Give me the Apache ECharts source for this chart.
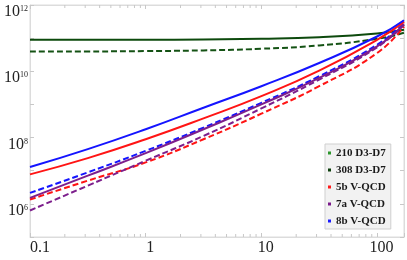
<!DOCTYPE html>
<html>
<head>
<meta charset="utf-8">
<script src="https://cdn.jsdelivr.net/npm/echarts@6/dist/echarts.min.js"></script>
<style>html,body{margin:0;padding:0;background:#fff}#c{width:407px;height:260px}</style>
</head>
<body>
<div id="c"></div>
<script>
// x positions where values were read
const xVals = [0.1, 0.316, 1, 3.16, 10, 31.6, 100, 171];
// series values
const d210 = [8.91e10, 8.91e10, 8.91e10, 9.12e10, 9.55e10, 1.07e11, 1.38e11, 1.78e11];
const d308 = [3.98e10, 3.98e10, 4.07e10, 4.27e10, 4.79e10, 6.03e10, 9.55e10, 1.45e11];
const red5bSolid = [7.76e6, 2.40e7, 8.91e7, 3.80e8, 1.78e9, 1.05e10, 8.91e10, 3.09e11];
const red5bDash = [1.35e6, 5.01e6, 1.78e7, 8.91e7, 5.25e8, 3.55e9, 3.55e10, 2.24e11];
const pur7aSolid = [1.51e6, 7.08e6, 3.39e7, 1.78e8, 1.00e9, 6.31e9, 5.62e10, 2.63e11];
const pur7aDash = [6.31e5, 3.55e6, 2.00e7, 1.12e8, 7.59e8, 5.62e9, 5.25e10, 2.51e11];
const blu8bSolid = [1.29e7, 4.47e7, 1.78e8, 7.94e8, 3.55e9, 1.78e10, 1.12e11, 3.47e11];
const blu8bDash = [2.14e6, 8.91e6, 3.98e7, 2.00e8, 1.12e9, 7.08e9, 6.31e10, 2.82e11];
const legendNames = ['210 D3-D7', '308 D3-D7', '5b V-QCD', '7a V-QCD', '8b V-QCD'];
const minorTickVals = [0.2,0.3,0.4,0.5,0.6,0.7,0.8,0.9,2,3,4,5,6,7,8,9,20,30,40,50,60,70,80,90,200];
const xMin = 0.1, xMax = 171, yMin = 1e5, yMax = 1e12;

const pairs = ys => xVals.map((x, i) => [x, ys[i]]);
const serif = 'Liberation Serif';

function lineSeries(name, ys, color, dashed, z) {
  return {
    name: name, type: 'line', data: pairs(ys), showSymbol: false, symbol: 'none',
    smooth: 0.5, z: z,
    itemStyle: { color: color },
    lineStyle: { color: color, width: 2, type: dashed ? [6, 3] : 'solid' }
  };
}

const chart = echarts.init(document.getElementById('c'), null, { renderer: 'canvas' });
const tickStyle = { show: true, inside: true, length: 4, lineStyle: { color: '#c8c8c8', width: 1 } };
const lineAx = { show: true, lineStyle: { color: '#dcdcdc', width: 1 } };
chart.setOption({
  animation: false,
  grid: { left: 30, right: 2, top: 5, bottom: 23, show: true, borderColor: '#dcdcdc', borderWidth: 1, backgroundColor: 'transparent' },
  legend: {
    orient: 'vertical', left: 325, top: 144,
    data: [
      { name: legendNames[0], itemStyle: { color: '#2c962c' } },
      { name: legendNames[1], itemStyle: { color: '#0c3f0c' } },
      { name: legendNames[2], itemStyle: { color: '#ff1a1a' } },
      { name: legendNames[3], itemStyle: { color: '#7a1a8a' } },
      { name: legendNames[4], itemStyle: { color: '#1a1aff' } }
    ],
    icon: 'rect', itemWidth: 3, itemHeight: 3, itemGap: 5,
    padding: [3, 5, 2, 3],
    backgroundColor: '#f2f2f2', borderColor: '#cfcfcf', borderWidth: 1,
    textStyle: { fontFamily: serif, fontSize: 11, fontWeight: 'bold', color: '#1a1a1a', lineHeight: 12 }
  },
  xAxis: [{
    type: 'log', logBase: 10, min: xMin, max: xMax, position: 'bottom',
    axisLine: lineAx, axisTick: tickStyle, splitLine: { show: false },
    axisLabel: {
      margin: 3, showMinLabel: true, showMaxLabel: true,
      formatter: v => {
        const e = Math.log10(v);
        if (Math.abs(e - Math.round(e)) > 1e-6) return '';
        const r = Math.round(e);
        return r < 0 ? '{f|0.1}' : '{n|' + Math.round(Math.pow(10, r)) + '}';
      },
      rich: {
        f: { fontFamily: serif, fontSize: 16, color: '#222', padding: [0, 0, 0, 20] },
        n: { fontFamily: serif, fontSize: 16, color: '#222', padding: [0, 0, 0, 9] }
      }
    }
  }, {
    type: 'log', logBase: 10, min: xMin, max: xMax, position: 'top',
    axisLine: lineAx, axisTick: tickStyle, axisLabel: { show: false }, splitLine: { show: false }
  }],
  yAxis: [{
    type: 'log', logBase: 10, min: yMin, max: yMax, position: 'left',
    axisLine: lineAx, axisTick: tickStyle, splitLine: { show: false },
    axisLabel: {
      margin: 2, showMinLabel: true, showMaxLabel: true, verticalAlign: 'top',
      formatter: v => {
        const e = Math.round(Math.log10(v));
        if (e % 2 !== 0) return '';
        return '{b|10}{s|' + e + '}';
      },
      rich: {
        b: { fontFamily: serif, fontSize: 16, color: '#222', lineHeight: 14 },
        s: { fontFamily: serif, fontSize: 8, color: '#222', verticalAlign: 'top', lineHeight: 9 }
      }
    }
  }, {
    type: 'log', logBase: 10, min: yMin, max: yMax, position: 'right',
    axisLine: lineAx, axisTick: tickStyle, axisLabel: { show: false }, splitLine: { show: false }
  }],
  series: [
    lineSeries(legendNames[0], d210, '#0d4a0d', false, 3),
    lineSeries(legendNames[1], d308, '#145214', true, 3),
    lineSeries(legendNames[2], red5bDash, '#ff1414', true, 4),
    lineSeries(legendNames[3], pur7aDash, '#7d1f8c', true, 4),
    lineSeries(legendNames[4], blu8bDash, '#1414ff', true, 4),
    lineSeries(legendNames[3], pur7aSolid, '#7d1f8c', false, 5),
    lineSeries(legendNames[2], red5bSolid, '#ff1414', false, 5),
    lineSeries(legendNames[4], blu8bSolid, '#1414ff', false, 6),
    {
      type: 'custom', silent: true, z: 1, clip: true,
      data: minorTickVals.filter(v => v > xMin && v < xMax).map(v => [v]),
      encode: { x: 0 },
      renderItem: (params, api) => {
        const x = api.value(0);
        const b = api.coord([x, yMin]);
        const t = api.coord([x, yMax]);
        const st = { stroke: '#c8c8c8', lineWidth: 1 };
        return { type: 'group', children: [
          { type: 'line', shape: { x1: b[0], y1: b[1], x2: b[0], y2: b[1] - 3 }, style: st },
          { type: 'line', shape: { x1: t[0], y1: t[1], x2: t[0], y2: t[1] + 3 }, style: st }
        ] };
      }
    }
  ]
});
</script>
</body>
</html>
